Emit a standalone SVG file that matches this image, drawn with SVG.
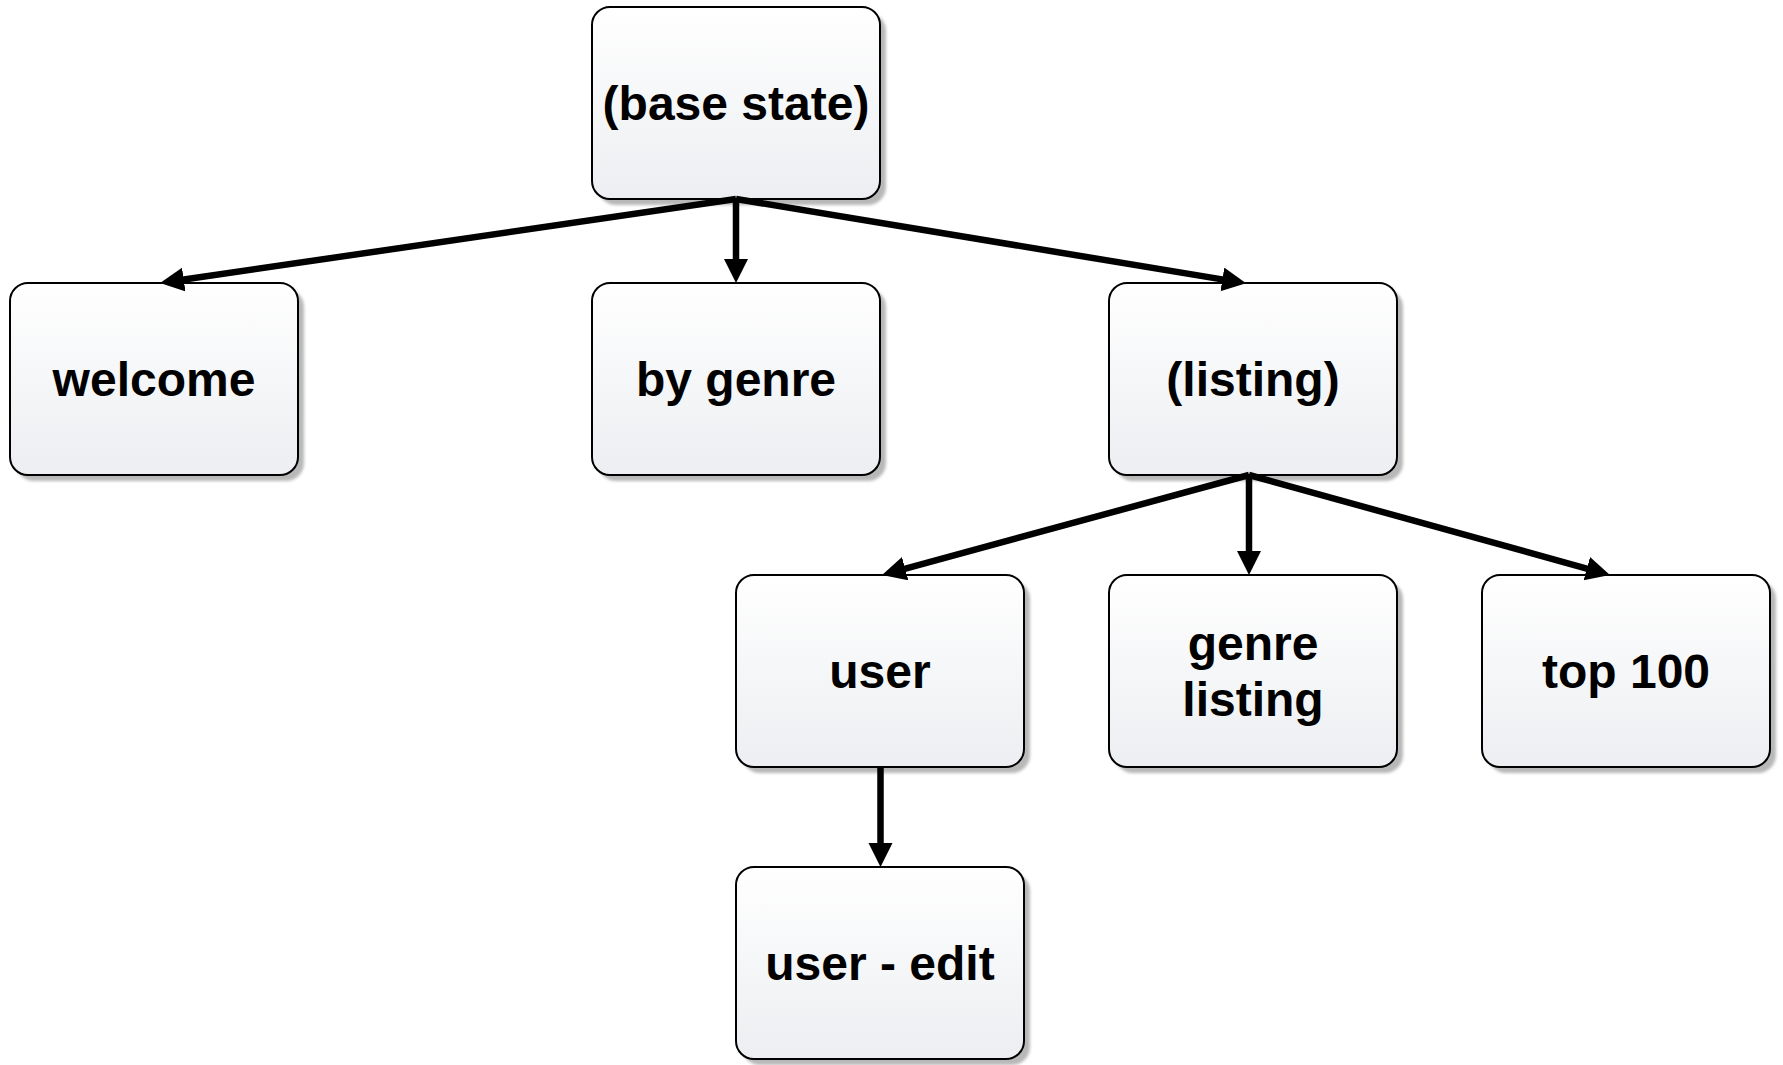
<svg xmlns="http://www.w3.org/2000/svg" width="1783" height="1065" viewBox="0 0 1783 1065">
  <style>
    .box { fill: url(#boxFill); stroke: #000; stroke-width: 2; }
    .shadow { fill: #b8b8b8; filter: url(#soft); }
    .label { font-family: "Liberation Sans", Arial, sans-serif; font-weight: bold; font-size: 48px; fill: #000; text-anchor: middle; }
    .edge { fill: none; stroke: #000; stroke-width: 6.5; marker-end: url(#arrow); }
  </style>
  <defs>
    <linearGradient id="boxFill" x1="0" y1="0" x2="0" y2="1">
      <stop offset="0" stop-color="#ffffff"/>
      <stop offset="1" stop-color="#eceef1"/>
    </linearGradient>
    <filter id="soft" x="-5%" y="-5%" width="110%" height="110%">
      <feGaussianBlur stdDeviation="1.5"/>
    </filter>
    <marker id="arrow" markerUnits="userSpaceOnUse" markerWidth="26" markerHeight="26" refX="12" refY="12" orient="auto">
      <path d="M0,0 L24,12 L0,24 Z" fill="#000"/>
    </marker>
  </defs>

  <rect width="1783" height="1065" fill="#ffffff"/>

  <!-- nodes -->
  <g id="base-state">
    <rect class="shadow" x="598" y="13" width="288" height="192" rx="18"/>
    <rect class="box" x="592" y="7" width="288" height="192" rx="18"/>
    <text class="label" x="736" y="120">(base state)</text>
  </g>
  <g id="welcome">
    <rect class="shadow" x="16" y="289" width="288" height="192" rx="18"/>
    <rect class="box" x="10" y="283" width="288" height="192" rx="18"/>
    <text class="label" x="154" y="396">welcome</text>
  </g>
  <g id="by-genre">
    <rect class="shadow" x="598" y="289" width="288" height="192" rx="18"/>
    <rect class="box" x="592" y="283" width="288" height="192" rx="18"/>
    <text class="label" x="736" y="396">by genre</text>
  </g>
  <g id="listing">
    <rect class="shadow" x="1115" y="289" width="288" height="192" rx="18"/>
    <rect class="box" x="1109" y="283" width="288" height="192" rx="18"/>
    <text class="label" x="1253" y="396">(listing)</text>
  </g>
  <g id="user">
    <rect class="shadow" x="742" y="581" width="288" height="192" rx="18"/>
    <rect class="box" x="736" y="575" width="288" height="192" rx="18"/>
    <text class="label" x="880" y="688">user</text>
  </g>
  <g id="genre-listing">
    <rect class="shadow" x="1115" y="581" width="288" height="192" rx="18"/>
    <rect class="box" x="1109" y="575" width="288" height="192" rx="18"/>
    <text class="label" x="1253" y="660">genre</text>
    <text class="label" x="1253" y="716">listing</text>
  </g>
  <g id="top-100">
    <rect class="shadow" x="1488" y="581" width="288" height="192" rx="18"/>
    <rect class="box" x="1482" y="575" width="288" height="192" rx="18"/>
    <text class="label" x="1626" y="688">top 100</text>
  </g>
  <g id="user-edit">
    <rect class="shadow" x="742" y="873" width="288" height="192" rx="18"/>
    <rect class="box" x="736" y="867" width="288" height="192" rx="18"/>
    <text class="label" x="880" y="980">user - edit</text>
  </g>

  <!-- connectors (each path stops 12px short of the arrow tip; the marker reaches it) -->
  <g id="connectors">
    <path class="edge" d="M736,199 L171.9,281.3"/>
    <path class="edge" d="M736,199 L736,271"/>
    <path class="edge" d="M736,199 L1234.2,281.4"/>
    <path class="edge" d="M1249,475 L893.6,571.8"/>
    <path class="edge" d="M1249,475 L1249,563"/>
    <path class="edge" d="M1249,475 L1598.4,571.8"/>
    <path class="edge" d="M880.5,767 L880.5,855"/>
  </g>
</svg>
